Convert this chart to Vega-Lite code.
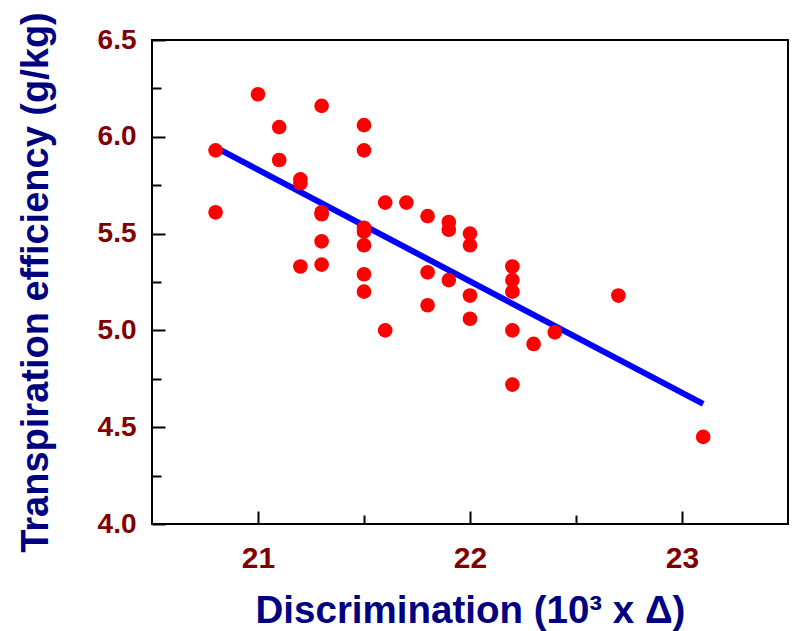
{
  "$schema": "https://vega.github.io/schema/vega-lite/v6.json",
  "width": 636,
  "height": 484,
  "autosize": "none",
  "padding": {"left": 152, "top": 40, "right": 4, "bottom": 107},
  "background": "white",
  "config": {
    "view": {"stroke": "black", "strokeWidth": 2},
    "axis": {
      "grid": false,
      "domain": false,
      "tickColor": "black",
      "tickWidth": 2,
      "labelFont": "Liberation Sans",
      "labelFontWeight": "bold",
      "labelColor": "#800000",
      "titleFont": "Liberation Sans",
      "titleFontWeight": "bold",
      "titleColor": "#000080"
    }
  },
  "datasets": {
    "points": [
      {"d": 20.8, "te": 5.93}, {"d": 20.8, "te": 5.61},
      {"d": 21.0, "te": 6.22},
      {"d": 21.1, "te": 6.05}, {"d": 21.1, "te": 5.88},
      {"d": 21.2, "te": 5.78}, {"d": 21.2, "te": 5.76}, {"d": 21.2, "te": 5.33},
      {"d": 21.3, "te": 6.16}, {"d": 21.3, "te": 5.61}, {"d": 21.3, "te": 5.60}, {"d": 21.3, "te": 5.46}, {"d": 21.3, "te": 5.34},
      {"d": 21.5, "te": 6.06}, {"d": 21.5, "te": 5.93}, {"d": 21.5, "te": 5.53}, {"d": 21.5, "te": 5.51}, {"d": 21.5, "te": 5.44}, {"d": 21.5, "te": 5.29}, {"d": 21.5, "te": 5.20},
      {"d": 21.6, "te": 5.66}, {"d": 21.6, "te": 5.00},
      {"d": 21.7, "te": 5.66},
      {"d": 21.8, "te": 5.59}, {"d": 21.8, "te": 5.30}, {"d": 21.8, "te": 5.13},
      {"d": 21.9, "te": 5.56}, {"d": 21.9, "te": 5.52}, {"d": 21.9, "te": 5.26},
      {"d": 22.0, "te": 5.50}, {"d": 22.0, "te": 5.44}, {"d": 22.0, "te": 5.18}, {"d": 22.0, "te": 5.06},
      {"d": 22.2, "te": 5.33}, {"d": 22.2, "te": 5.26}, {"d": 22.2, "te": 5.20}, {"d": 22.2, "te": 5.00}, {"d": 22.2, "te": 4.72},
      {"d": 22.3, "te": 4.93},
      {"d": 22.4, "te": 4.99},
      {"d": 22.7, "te": 5.18},
      {"d": 23.1, "te": 4.45}
    ],
    "fit": [
      {"d": 20.8, "te": 5.945},
      {"d": 23.1, "te": 4.62}
    ]
  },
  "layer": [
    {
      "data": {"name": "fit"},
      "mark": {"type": "line", "color": "#0000ff", "strokeWidth": 6, "strokeCap": "butt"},
      "encoding": {
        "x": {"field": "d", "type": "quantitative"},
        "y": {"field": "te", "type": "quantitative"}
      }
    },
    {
      "data": {"name": "points"},
      "mark": {"type": "circle", "color": "#ff0000", "opacity": 1, "size": 215},
      "encoding": {
        "x": {
          "field": "d",
          "type": "quantitative",
          "scale": {"domain": [20.5, 23.5], "nice": false, "zero": false},
          "axis": {
            "title": "Discrimination (10³ x Δ)",
            "titleFontSize": 38.5,
            "titlePadding": 19,
            "values": [21, 21.5, 22, 22.5, 23],
            "labelExpr": "(datum.value*2) % 2 === 0 ? format(datum.value, 'd') : ''",
            "labelFontSize": 30,
            "labelPadding": 32,
            "tickSize": {"condition": {"test": "(datum.value*2) % 2 === 0", "value": -13}, "value": -9}
          }
        },
        "y": {
          "field": "te",
          "type": "quantitative",
          "scale": {"domain": [4, 6.5], "nice": false, "zero": false},
          "axis": {
            "title": "Transpiration efficiency (g/kg)",
            "titleFontSize": 38,
            "titlePadding": 42,
            "values": [4, 4.25, 4.5, 4.75, 5, 5.25, 5.5, 5.75, 6, 6.25, 6.5],
            "labelExpr": "(datum.value*4) % 2 === 0 ? format(datum.value, '.1f') : ''",
            "labelFontSize": 28,
            "labelPadding": 29,
            "tickSize": {"condition": {"test": "(datum.value*4) % 2 === 0", "value": -13}, "value": -9}
          }
        }
      }
    }
  ]
}
